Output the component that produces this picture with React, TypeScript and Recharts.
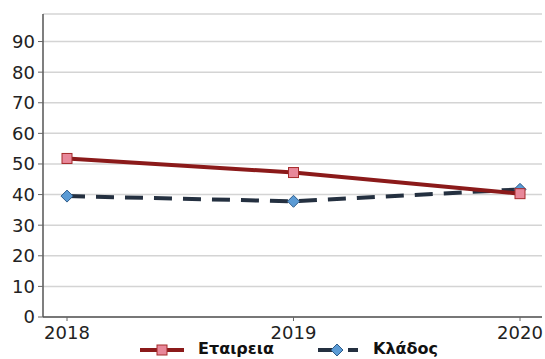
import React from "react";
import {
  LineChart,
  Line,
  XAxis,
  YAxis,
  CartesianGrid,
} from "recharts";

const years = ["2018", "2019", "2020"];
const etaireia = [51.8, 47.2, 40.3];
const kladios = [39.5, 37.8, 41.7];
const yTicks = [0, 10, 20, 30, 40, 50, 60, 70, 80, 90];
const seriesNames = ["Εταιρεια", "Κλάδος"];

const data = years.map((y, i) => ({
  year: y,
  etaireia: etaireia[i],
  kladios: kladios[i],
}));

const FONT = "'DejaVu Sans', Verdana, sans-serif";

const SquareDot = (props: any) => {
  const { cx, cy } = props;
  if (cx == null || cy == null) return null;
  return (
    <rect
      x={cx - 5}
      y={cy - 5}
      width={10}
      height={10}
      fill="#E8889A"
      stroke="#A52A2A"
      strokeWidth={1}
    />
  );
};

const DiamondDot = (props: any) => {
  const { cx, cy } = props;
  if (cx == null || cy == null) return null;
  return (
    <path
      d={`M${cx},${cy - 6} L${cx + 6},${cy} L${cx},${cy + 6} L${cx - 6},${cy} Z`}
      fill="#5B9BD5"
      stroke="#2E5C8A"
      strokeWidth={1}
    />
  );
};

// legend drawn under the plot, same look as the series
const LegendRow = () => (
  <svg
    width={545}
    height={20}
    style={{ position: "absolute", left: 0, top: 339 }}
  >
    <line x1={140} y1={11} x2={184} y2={11} stroke="#8B1A1A" strokeWidth={4} />
    <rect x={157} y={6} width={10} height={10} fill="#E8889A" stroke="#A52A2A" />
    <text x={198} y={15} fontFamily={FONT} fontWeight="bold" fontSize={16} fill="#111">
      {seriesNames[0]}
    </text>
    <line x1={318} y1={11} x2={358} y2={11} stroke="#243040" strokeWidth={4} strokeDasharray="22 8" />
    <path d="M337,5 L343,11 L337,17 L331,11 Z" fill="#5B9BD5" stroke="#2E5C8A" />
    <text x={373} y={15} fontFamily={FONT} fontWeight="bold" fontSize={16} fill="#111">
      {seriesNames[1]}
    </text>
  </svg>
);

const App = () => {
  return (
    <div
      style={{
        position: "absolute",
        left: 0,
        top: 0,
        width: 545,
        height: 359,
        background: "#fff",
        overflow: "hidden",
      }}
    >
      <LineChart
        width={545}
        height={359}
        data={data}
        margin={{ top: 14, right: 3, bottom: 14, left: 0 }}
      >
        <CartesianGrid
          vertical={false}
          stroke="#d4d4d4"
          strokeWidth={1.5}
          yAxisId="left"
        />
        <XAxis
          dataKey="year"
          xAxisId="bottom"
          padding={{ left: 24, right: 22 }}
          tick={{ fill: "#222", fontSize: 18, fontFamily: FONT }}
          tickLine={{ stroke: "#666" }}
          tickSize={4}
          tickMargin={5}
          axisLine={{ stroke: "#555", strokeWidth: 1.5 }}
          height={28}
          interval={0}
        />
        <XAxis
          dataKey="year"
          xAxisId="top"
          orientation="top"
          tick={false}
          tickLine={false}
          axisLine={{ stroke: "#555", strokeWidth: 1.5 }}
          height={0}
        />
        <YAxis
          yAxisId="left"
          domain={[0, 99]}
          ticks={yTicks}
          interval={0}
          width={43}
          tick={{ fill: "#222", fontSize: 18, fontFamily: FONT }}
          tickLine={{ stroke: "#666" }}
          tickSize={5}
          tickMargin={3}
          axisLine={{ stroke: "#555", strokeWidth: 1.5 }}
        />
        <YAxis
          yAxisId="right"
          orientation="right"
          domain={[0, 99]}
          tick={false}
          tickLine={false}
          axisLine={{ stroke: "#777", strokeWidth: 1.5 }}
          width={0}
        />
        <Line
          xAxisId="bottom"
          yAxisId="left"
          type="linear"
          dataKey="kladios"
          stroke="#243040"
          strokeWidth={4}
          strokeDasharray="18 11"
          dot={<DiamondDot />}
          activeDot={false}
          isAnimationActive={false}
        />
        <Line
          xAxisId="bottom"
          yAxisId="left"
          type="linear"
          dataKey="etaireia"
          stroke="#8B1A1A"
          strokeWidth={4}
          dot={<SquareDot />}
          activeDot={false}
          isAnimationActive={false}
        />
      </LineChart>
      <LegendRow />
    </div>
  );
};

export default App;
